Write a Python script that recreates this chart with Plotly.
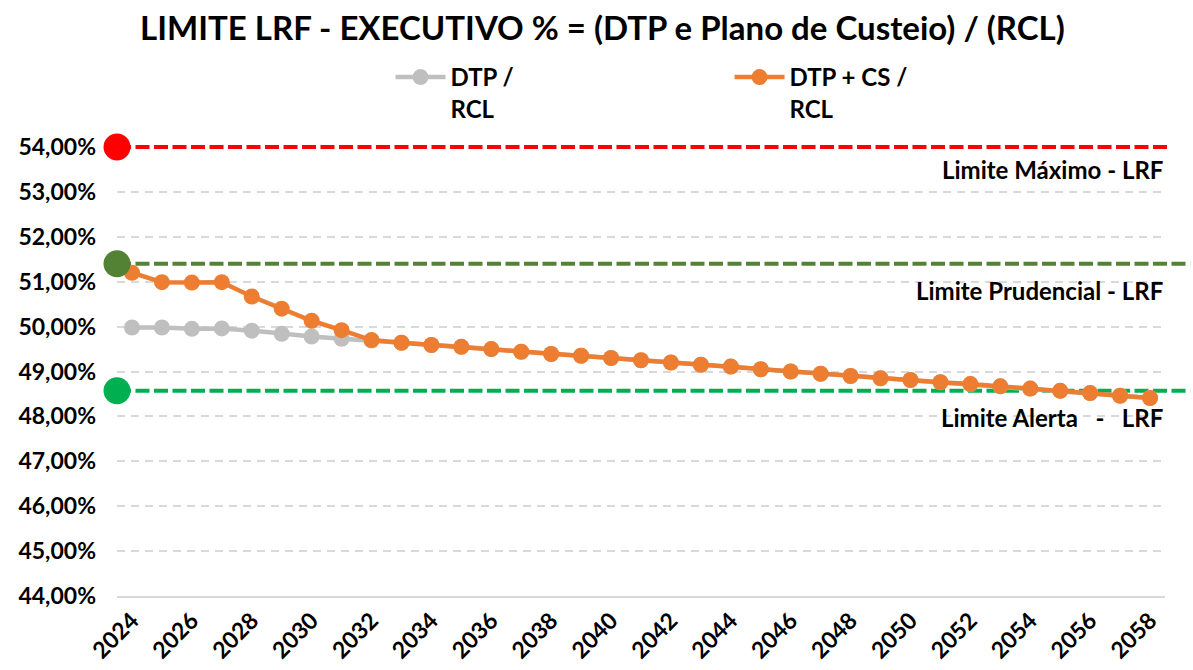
import plotly.graph_objects as go

years = list(range(2024, 2059))
dtp_rcl = [49.98, 49.98, 49.95, 49.96, 49.91, 49.84, 49.78, 49.73, 49.69,
           49.64, 49.59, 49.55, 49.50, 49.44, 49.39, 49.35, 49.30, 49.25,
           49.20, 49.15, 49.11, 49.05, 49.00, 48.95, 48.90, 48.85, 48.81,
           48.76, 48.72, 48.67, 48.62, 48.57, 48.52, 48.46, 48.41]
dtp_cs_rcl = [51.20, 50.99, 50.98, 50.99, 50.67, 50.40, 50.13, 49.92, 49.70,
              49.64, 49.59, 49.55, 49.50, 49.44, 49.39, 49.35, 49.30, 49.25,
              49.20, 49.15, 49.11, 49.05, 49.00, 48.95, 48.90, 48.85, 48.81,
              48.76, 48.72, 48.67, 48.62, 48.57, 48.52, 48.46, 48.41]
limit_names = ["Limite Máximo - LRF", "Limite Prudencial - LRF", "Limite Alerta   -   LRF"]
limit_values = [54.00, 51.40, 48.57]
limit_colors = ["#FF0000", "#548235", "#00B050"]
limit_line_ends = [1.005, 1.024, 1.024]
y_ticks = list(range(44, 55))
y_range = [44, 54]

FONT = "Lato"

fig = go.Figure()
fig.add_trace(go.Scatter(
    x=years, y=dtp_rcl, name="<b>DTP /<br>RCL</b>", mode="lines+markers",
    line=dict(color="#BFBFBF", width=4.5),
    marker=dict(color="#BFBFBF", size=16),
))
fig.add_trace(go.Scatter(
    x=years, y=dtp_cs_rcl, name="<b>DTP + CS /<br>RCL</b>", mode="lines+markers",
    line=dict(color="#ED7D31", width=4.5),
    marker=dict(color="#ED7D31", size=16),
))

x_start = years[0] - 0.5
for name, val, col, xend in zip(limit_names, limit_values, limit_colors, limit_line_ends):
    yp = (val - y_range[0]) / (y_range[1] - y_range[0])
    fig.add_shape(type="line", xref="paper", yref="paper", x0=0, x1=xend, y0=yp, y1=yp,
                  line=dict(color=col, width=4, dash="14px,4.5px"), layer="between")
    fig.add_trace(go.Scatter(
        x=[x_start], y=[val], mode="markers", showlegend=False, cliponaxis=False,
        marker=dict(color=col, size=27), hoverinfo="skip",
    ))

ann_y = [53.49, 50.80, 47.97]
for name, yv in zip(limit_names, ann_y):
    fig.add_annotation(x=1.0, xref="paper", y=yv, yref="y", text=f"<b>{name}</b>",
                       showarrow=False, xanchor="right", yanchor="middle",
                       font=dict(family=FONT, size=24, color="#000000"))

fig.update_layout(
    width=1193, height=670,
    paper_bgcolor="white", plot_bgcolor="white",
    margin=dict(l=117, r=28, t=147, b=74, autoexpand=False),
    title=dict(text="<b>LIMITE LRF - EXECUTIVO % = (DTP e Plano de Custeio) / (RCL)</b>",
               x=0.505, xanchor="center", y=0.958, yanchor="middle",
               font=dict(family=FONT, size=33, color="#000000")),
    legend=dict(orientation="h", x=0.261, xanchor="left", y=1.205, yanchor="top",
                entrywidth=274, entrywidthmode="pixels", valign="top", itemwidth=50,
                font=dict(family=FONT, size=24, color="#000000"),
                bgcolor="rgba(0,0,0,0)"),
    font=dict(family=FONT, color="#000000"),
)
fig.update_xaxes(
    range=[years[0] - 0.5, years[-1] + 0.5], tickmode="array",
    tickvals=years[::2], ticktext=[f"<b>{y}</b>" for y in years[::2]],
    tickangle=-45, tickfont=dict(family=FONT, size=23, color="#000000"),
    showgrid=False, zeroline=False, showline=True, linecolor="#D9D9D9", linewidth=2,
    automargin=False,
)
fig.update_yaxes(
    range=y_range, tickmode="array", tickvals=y_ticks,
    ticktext=[f"<b>{v:.2f}%</b>".replace(".", ",") for v in y_ticks],
    tickfont=dict(family=FONT, size=23, color="#000000"),
    showgrid=True, gridcolor="#D9D9D9", griddash="8px,6px", gridwidth=1.5,
    zeroline=False, ticklabelstandoff=20, automargin=False,
)

fig.write_html("out.html", config={"displayModeBar": False},
               post_script="document.body.style.margin='0';")
